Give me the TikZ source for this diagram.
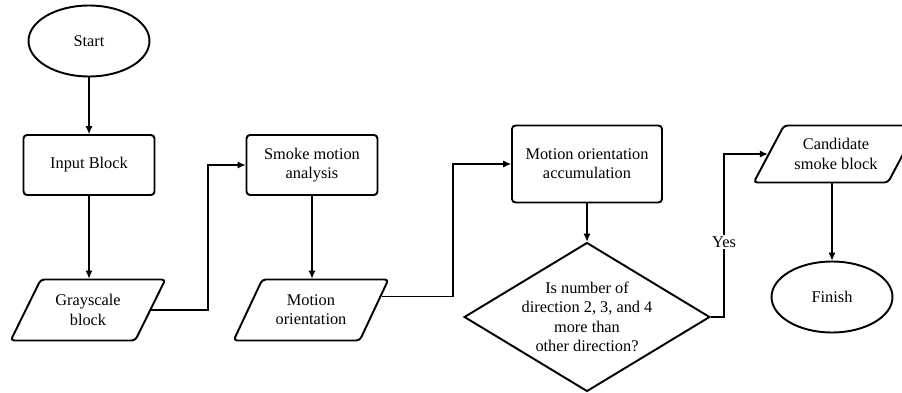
\documentclass[tikz,border=0pt]{standalone}
\usepackage{fontspec}
\setmainfont{Liberation Serif}
\usetikzlibrary{shapes.geometric}
\usetikzlibrary{arrows.meta}

\begin{document}
\begin{tikzpicture}[
  x=0.02cm,
  y=-0.02cm,
  >={Latex[length=4.5pt,width=4pt]},
  font=\fontsize{9.3}{11}\selectfont,
  term/.style={
      draw,
      ellipse,
      line width=1.1pt,
      minimum width=2.42cm,
      minimum height=1.42cm
  },
  proc/.style={
      draw,
      rounded corners=2pt,
      line width=1.1pt,
      align=center,
      minimum width=2.62cm,
      minimum height=1.2cm
  },
  io/.style={
      draw,
      trapezium,
      trapezium left angle=60,
      trapezium right angle=120,
      trapezium stretches=true,
      rounded corners=2pt,
      line width=1.1pt,
      align=center,
      minimum width=3.1cm,
      minimum height=1.22cm
  },
  decide/.style={
      draw,
      diamond,
      line width=1.1pt,
      align=center,
      aspect=1.65,
      inner sep=0pt,
      minimum width=4.72cm,
      minimum height=2.86cm
  },
  flow/.style={
      ->,
      line width=0.6pt
  }
]

\useasboundingbox (0,0) rectangle (902,392);

\node[term] (start) at (89,41) {Start};

\node[proc] (input) at (89,165) {Input Block};

\node[io] (gray) at (88,310) {Grayscale\\block};

\node[proc] (smoke) at (312,165) {Smoke motion\\analysis};

\node[io] (orient) at (311,310) {Motion\\orientation};

\node[proc, minimum width=3cm, minimum height=1.54cm] (accum) at (587,164)
{Motion orientation\\accumulation};

\node[decide] (check) at (587,317)
{Is number of\\direction 2, 3, and 4\\more than\\other direction?};

\node[io, trapezium left angle=57, trapezium right angle=123,
  minimum width=3.3cm, minimum height=1.14cm] (cand) at (836,154)
{Candidate\\smoke block};

\node[term] (finish) at (832,297) {Finish};

\coordinate (bendA) at (208,310);
\coordinate (bendB) at (453,297);
\coordinate (bendC) at (724,317);

\draw[flow] (start.south) -- (input.north);
\draw[flow] (input.south) -- (input.south |- gray.north);
\draw[flow] (gray.east) -- (gray.east -| bendA) |- (smoke.west);
\draw[flow] (smoke.south) -- (smoke.south |- orient.north);
\draw[flow] (orient.11) -- (orient.11 -| bendB) |- (accum.west);
\draw[flow] (accum.south) -- (check.north);
\draw[flow]
(check.east) -- (check.east -| bendC)
|- node[pos=0.23, fill=white, inner sep=1pt] {Yes}
(cand.west);
\draw[flow] (finish.north |- cand.south) -- (finish.north);

\end{tikzpicture}
\end{document}
